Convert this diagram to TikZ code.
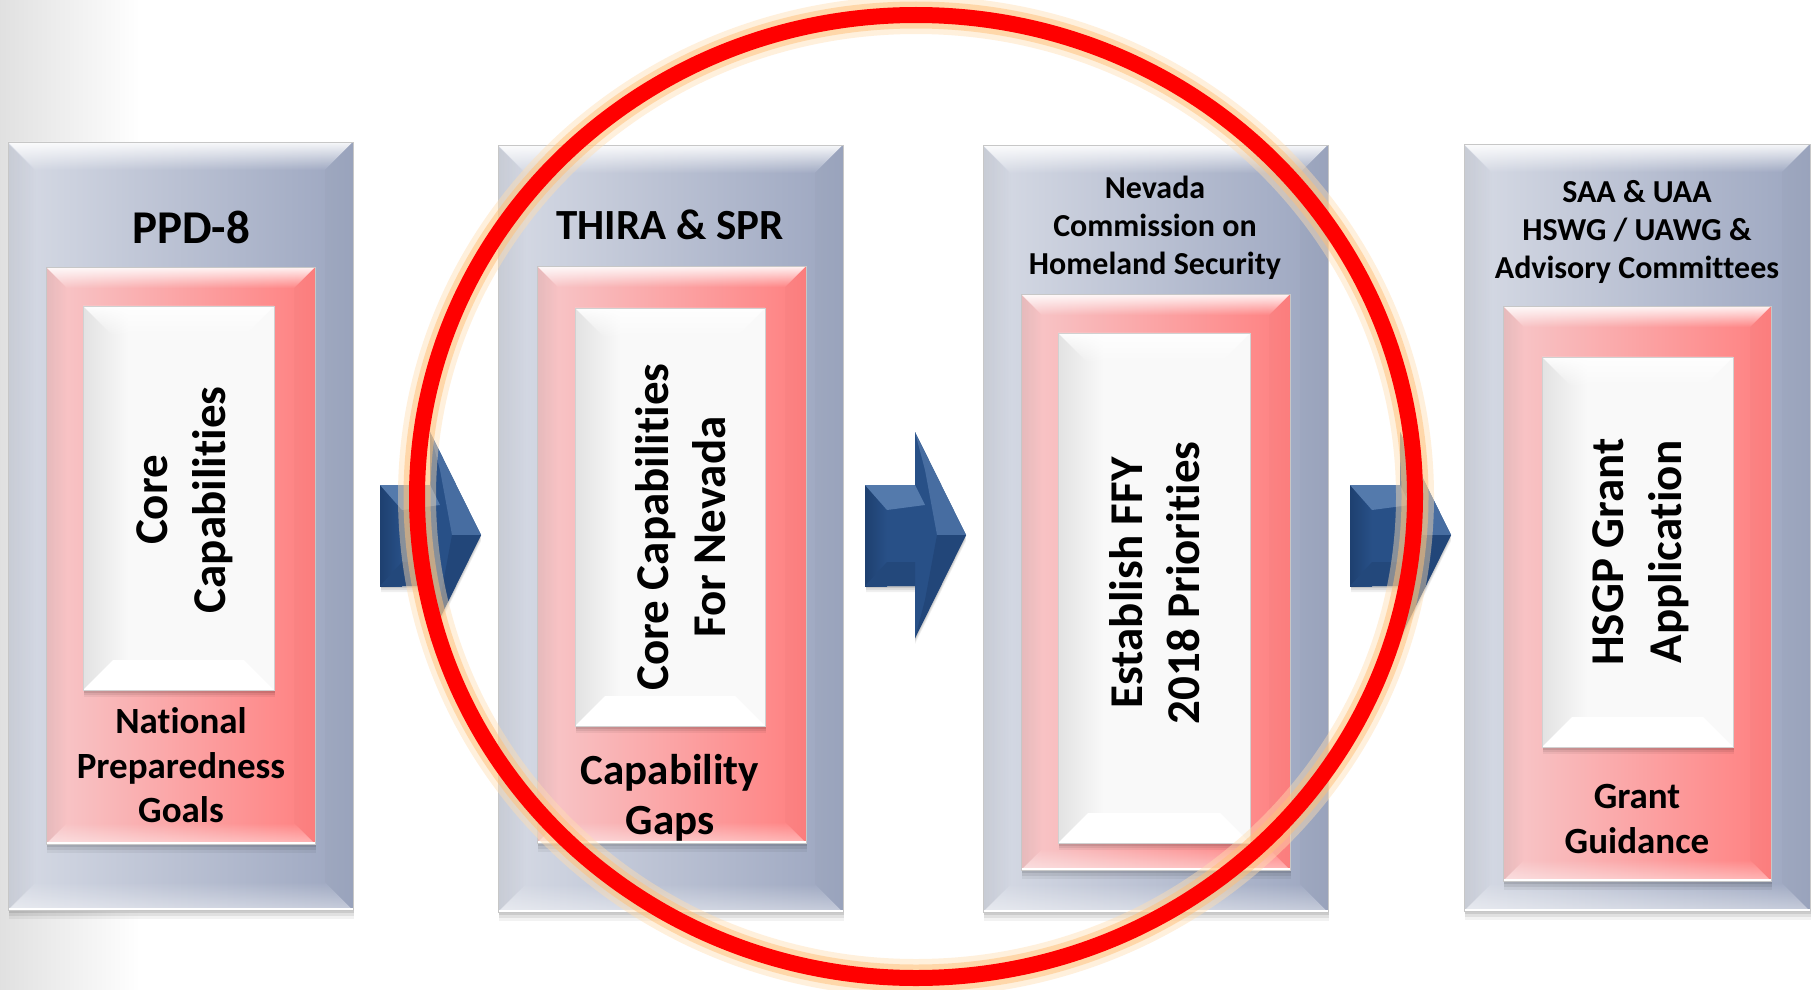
\documentclass[tikz,border=0pt]{standalone}
\usepackage{fontspec}
\setmainfont{Carlito}[Ligatures={NoCommon,NoContextual}]
\usetikzlibrary{fadings}
\newcommand{\nolig}{\kern0pt }
\definecolor{grayL}{RGB}{215,219,229}
\definecolor{grayR}{RGB}{156,166,192}
\definecolor{pinkL}{RGB}{247,200,202}
\definecolor{pinkR}{RGB}{255,128,128}
\definecolor{whL}{RGB}{226,226,226}
\definecolor{whR}{RGB}{249,249,249}
\definecolor{arrowblue}{RGB}{40,80,135}
\definecolor{arrowlight}{RGB}{84,122,172}
\definecolor{arrowdark}{RGB}{30,64,112}
\definecolor{ringred}{RGB}{255,0,0}
\definecolor{glowA}{RGB}{255,222,178}
\definecolor{glowB}{RGB}{255,192,120}
\newcommand{\bevbox}[7]{%
  \foreach \d/\o in {9/0.05,6/0.07,3/0.09}{%
    \fill[black,opacity=\o] (#1+1,#2+\d) rectangle (#3+1,#4+\d);
  }
  \shade[left color=#6,right color=#7] (#1,#2) rectangle (#3,#4);
  \fill[white,fill opacity=0.92,path fading=south] (#1,#2) -- (#3,#2) -- (#3-#5,#2+#5) -- (#1+#5,#2+#5) -- cycle;
  \fill[black,fill opacity=0.07,path fading=east] (#1,#2) -- (#1+#5,#2+#5) -- (#1+#5,#4-#5) -- (#1,#4) -- cycle;
  \fill[black,fill opacity=0.015] (#3,#2) -- (#3-#5,#2+#5) -- (#3-#5,#4-#5) -- (#3,#4) -- cycle;
  \fill[white,fill opacity=0.45,path fading=north] (#1,#4) -- (#1+#5,#4-#5) -- (#3-#5,#4-#5) -- (#3,#4) -- cycle;
  \draw[white,line width=1.5] (#1,#4-1) -- (#3,#4-1);
  \draw[black!22,line width=0.8] (#1,#2) rectangle (#3,#4);
}
\newcommand{\whbox}[5]{%
  \foreach \d/\o in {7/0.05,5/0.07,3/0.09}{%
    \fill[black,opacity=\o] (#1+1,#2+\d) rectangle (#3+1,#4+\d);
  }
  \fill[whR] (#1,#2) rectangle (#3,#4);
  \shade[left color=whL,right color=whR] (#1,#2) rectangle (#1+45,#4);
  \fill[white,fill opacity=0.95,path fading=south] (#1,#2) -- (#3,#2) -- (#3-#5,#2+#5) -- (#1+#5,#2+#5) -- cycle;
  \fill[white] (#1,#4) -- (#1+#5,#4-#5) -- (#3-#5,#4-#5) -- (#3,#4) -- cycle;
  \draw[black!18,line width=0.8] (#1,#2) rectangle (#3,#4);
}
\newcommand{\bluearrow}[1]{% #1 = left x of shaft
  \foreach \d/\o in {6/0.06,4/0.08,2/0.1}{%
    \fill[black,opacity=\o] (#1+1,485+\d) -- (#1+50,485+\d) -- (#1+50,432+\d) -- (#1+101,535+\d) -- (#1+50,638+\d) -- (#1+50,586+\d) -- (#1+1,586+\d) -- cycle;
  }
  \fill[arrowblue] (#1,485) -- (#1+50,485) -- (#1+50,432) -- (#1+101,535) -- (#1+50,638) -- (#1+50,586) -- (#1,586) -- cycle;
  \shade[left color=arrowdark,right color=arrowblue] (#1,485) rectangle (#1+22,586);
  \fill[arrowlight] (#1,485) -- (#1+50,485) -- (#1+60,505) -- (#1+22,510) -- cycle;
  \fill[arrowlight!70!arrowblue] (#1+50,432) -- (#1+101,535) -- (#1+72,535) -- (#1+60,470) -- cycle;
  \fill[arrowdark!60!arrowblue] (#1+50,638) -- (#1+101,535) -- (#1+72,535) -- (#1+60,600) -- cycle;
  \fill[arrowdark!50!arrowblue] (#1,586) -- (#1+22,562) -- (#1+50,562) -- (#1+50,586) -- cycle;
}
\tikzset{
  lbl/.style={font=\bfseries\fontsize{#1}{#1}\selectfont, inner sep=0pt, anchor=base, text=black},
  rlbl/.style={font=\bfseries\fontsize{47}{47}\selectfont, inner sep=0pt, anchor=base, rotate=90, text=black}
}
\begin{document}
\begin{tikzpicture}[x=1pt,y=-1pt]
\useasboundingbox (0,0) rectangle (1816,990);
\fill[white] (0,0) rectangle (1816,990);
\shade[left color=black!12,right color=white] (0,0) rectangle (140,990);

% boxes
\bevbox{8}{142}{353}{910}{28}{grayL}{grayR}
\bevbox{46}{267}{315}{844}{21}{pinkL}{pinkR}
\whbox{83}{306}{274}{690}{30}

\bevbox{498}{145}{843}{912}{28}{grayL}{grayR}
\bevbox{537}{266}{806}{843}{21}{pinkL}{pinkR}
\whbox{575}{308}{765}{726}{30}

\bevbox{983}{145}{1328}{912}{28}{grayL}{grayR}
\bevbox{1021}{294}{1290}{870}{21}{pinkL}{pinkR}
\whbox{1058}{333}{1250}{843}{30}

\bevbox{1464}{144}{1810}{911}{28}{grayL}{grayR}
\bevbox{1503}{306}{1771}{881}{21}{pinkL}{pinkR}
\whbox{1542}{357}{1733}{747}{30}

% arrows
\bluearrow{380}
\bluearrow{865}
\bluearrow{1350}

% texts box 1
\node[lbl=47] (h1) at (191,243) {PPD-8};
\node[rlbl] (c1a) at (167,500) {Core};
\node[rlbl] (c1b) at (225,500) {Capabili\nolig ties};
\node[lbl=37] (b1a) at (181,733) {National};
\node[lbl=37] (b1b) at (181,778) {Preparedness};
\node[lbl=37] (b1c) at (181,822) {Goals};

% texts box 2
\node[lbl=43] (h2) at (670,239) {THIRA \& SPR};
\node[rlbl] (c2a) at (668,527) {Core Capabili\nolig ties};
\node[rlbl] (c2b) at (725,527) {For Nevada};
\node[lbl=43] (b2a) at (670,784) {Capability};
\node[lbl=43] (b2b) at (670,834) {Gaps};

% texts box 3
\node[lbl=32] (h3a) at (1155,198) {Nevada};
\node[lbl=32] (h3b) at (1155,236) {Commission on};
\node[lbl=32] (h3c) at (1155,274) {Homeland Security};
\node[rlbl] (c3a) at (1142,583) {Establish FFY};
\node[rlbl] (c3b) at (1199,583) {2018 Priori\nolig ties};

% texts box 4
\node[lbl=32] (h4a) at (1637,202) {SAA \& UAA};
\node[lbl=32] (h4b) at (1637,240) {HSWG / UAWG \&};
\node[lbl=32] (h4c) at (1637,278) {Advisory Commi\nolig t\nolig tees};
\node[rlbl] (c4a) at (1623,552) {HSGP Grant};
\node[rlbl] (c4b) at (1681,552) {Application};
\node[lbl=37] (b4a) at (1637,808) {Grant};
\node[lbl=37] (b4b) at (1637,853) {Guidance};

% red ring with glow
\draw[glowA,opacity=0.45,line width=38pt] (916,496.5) ellipse [x radius=499pt, y radius=481.5pt];
\draw[glowB,opacity=0.5,line width=27pt] (916,496.5) ellipse [x radius=499pt, y radius=481.5pt];
\draw[ringred,line width=16pt] (916,496.5) ellipse [x radius=499pt, y radius=481.5pt];
\end{tikzpicture}
\end{document}
